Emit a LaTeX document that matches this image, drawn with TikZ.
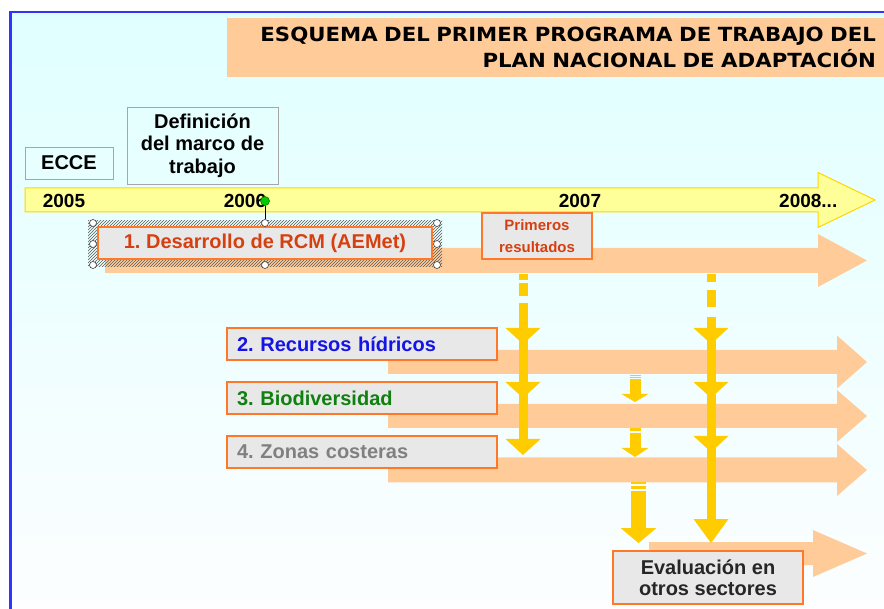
\documentclass[tikz,border=0pt]{standalone}
\usepackage{fontspec}
\setmainfont{Liberation Sans}
\newfontfamily\titlefont[FakeStretch=1.09]{DejaVu Sans}
\usepackage{tikz}
\usetikzlibrary{patterns}
\frenchspacing
\definecolor{slidetop}{RGB}{224,255,255}
\definecolor{slidebot}{RGB}{252,254,255}
\definecolor{frameblue}{RGB}{51,51,255}
\definecolor{titlefill}{RGB}{255,204,153}
\definecolor{bandfill}{RGB}{255,204,153}
\definecolor{linefill}{RGB}{255,255,153}
\definecolor{lineedge}{RGB}{255,214,0}
\definecolor{flowyellow}{RGB}{255,204,0}
\definecolor{boxfill}{RGB}{232,232,232}
\definecolor{boxedge}{RGB}{255,120,40}
\definecolor{rcmred}{RGB}{214,64,16}
\definecolor{hidblue}{RGB}{20,20,230}
\definecolor{biogreen}{RGB}{16,128,16}
\definecolor{costgray}{RGB}{128,128,128}
\tikzset{
  band/.style={fill=bandfill, draw=none},
  timeline/.style={fill=linefill, draw=lineedge, line width=1pt},
  flow/.style={fill=flowyellow, draw=none},
  taskbox/.style={draw=boxedge, fill=boxfill, line width=1.2pt, inner sep=0pt, font=\fontsize{20}{23}\selectfont\bfseries},
  rowbox/.style={taskbox, minimum width=270pt, minimum height=32pt, text width=250pt, align=left},
  notebox/.style={draw=gray!70, line width=0.8pt, inner sep=0pt, align=center, font=\fontsize{20}{22.5}\selectfont\bfseries},
  yr/.style={anchor=base, inner sep=0pt, font=\fontsize{19}{22}\selectfont\bfseries},
  handle/.style={circle, draw=gray!50!black, fill=white, line width=0.6pt, minimum size=7pt, inner sep=0pt},
}
% block arrow: [style] start, head base, tip, centre y, body half, head half
\newcommand{\blockarrow}[7][band]{\path[#1] (#2,#5-#6) -- (#3,#5-#6) -- (#3,#5-#7) -- (#4,#5) -- (#3,#5+#7) -- (#3,#5+#6) -- (#2,#5+#6) -- cycle;}
% down head: x, top y, half width, height
\newcommand{\flowhead}[4]{\path[flow] (#1-#3,#2) -- (#1+#3,#2) -- (#1,#2+#4) -- cycle;}

\begin{document}
\begin{tikzpicture}[x=1pt,y=-1pt]
\useasboundingbox (0,0) rectangle (884,609);
% slide
\fill[white] (0,0) rectangle (884,609);
\shade[top color=slidetop, bottom color=slidebot] (10,12) rectangle (884,609);
\draw[frameblue, line width=3pt] (10.5,609) -- (10.5,12.5);
\draw[frameblue, line width=2pt] (9,12.5) -- (884,12.5);

% title
\node[fill=titlefill, minimum width=657pt, minimum height=59pt, text width=641pt, align=right, inner sep=0pt,
  font=\titlefont\fontsize{19.5}{26}\selectfont\bfseries] (title) at (555.5,47.5)
  {ESQUEMA DEL PRIMER PROGRAMA DE TRABAJO DEL\\PLAN NACIONAL DE ADAPTACIÓN};

% milestones
\node[notebox, minimum width=88pt, minimum height=32pt] (ecce) at (69,163) {ECCE};
\node[notebox, minimum width=151pt, minimum height=77pt] (marco) at (202.5,145.5) {Definición\\del marco de\\trabajo};

% time line
\blockarrow[timeline]{25}{818}{875}{200}{12}{27.5}
\node[yr] (y05) at (64,208) {2005};
\node[yr] (y06) at (245,208) {2006};
\node[yr] (y07) at (580,208) {2007};
\node[yr, anchor=base west] (y08) at (779,208) {2008...};

% task 1
\blockarrow{105}{818}{867}{260.5}{12.5}{26.5}
\path[pattern=north east lines, pattern color=gray!70!black] (88,221) rectangle (442,267);
\node[taskbox, text=rcmred, minimum width=334pt, minimum height=32pt] (rcm) at (265,243) {1. Desarrollo de RCM (AEMet)};
\node[handle] (hTL) at (93,223) {};
\node[handle] (hT) at (265,223) {};
\node[handle] (hTR) at (437,223) {};
\node[handle] (hL) at (93,244) {};
\node[handle] (hR) at (437,244) {};
\node[handle] (hBL) at (93,265) {};
\node[handle] (hB) at (265,265) {};
\node[handle] (hBR) at (437,265) {};
\node[circle, draw=green!40!black, fill=green!80!black, line width=0.5pt, minimum size=9pt, inner sep=0pt] (rot) at (265,201) {};
\draw[line width=0.8pt] (rot) -- (hT);

\node[taskbox, text=rcmred, font=\fontsize{15}{22}\selectfont\bfseries, align=center,
  minimum width=110pt, minimum height=46pt] (prim) at (537,236) {Primeros\\resultados};

% tasks 2-4 and evaluation
\blockarrow{388}{837}{867}{362}{12}{26.5}
\blockarrow{388}{837}{867}{416}{12}{26}
\blockarrow{388}{837}{867}{470}{12.5}{26}
\blockarrow{649}{813}{867}{553.5}{11.5}{23.5}

\node[rowbox, text=hidblue] (hid) at (362,344) {2. Recursos hídricos};
\node[rowbox, text=biogreen] (bio) at (362,398) {3. Biodiversidad};
\node[rowbox, text=costgray] (cos) at (362,452) {4. Zonas costeras};

% results flowing down
\path[flow] (518.5,274) rectangle (527.5,280);
\path[flow] (518.5,283) rectangle (527.5,296);
\path[flow] (518.5,303) rectangle (527.5,445);
\flowhead{523}{328}{17.5}{16}
\flowhead{523}{382}{17.5}{16}
\flowhead{523}{439}{17.5}{16}

\path[flow] (706.5,274) rectangle (715.5,282);
\path[flow] (706.5,290) rectangle (715.5,307);
\path[flow] (706.5,317) rectangle (715.5,525);
\flowhead{711}{328}{17.5}{16}
\flowhead{711}{382}{17.5}{16}
\flowhead{711}{436}{17.5}{16}
\flowhead{711}{519}{17.5}{24}

\path[flow] (629.5,375) rectangle (640.5,376.5);
\path[flow] (629.5,377.5) rectangle (640.5,378.5);
\path[flow] (629.5,379.5) rectangle (640.5,394);
\flowhead{635}{394}{13.5}{8}
\path[flow] (629.5,428) rectangle (640.5,431);
\path[flow] (629.5,433) rectangle (640.5,448);
\flowhead{635}{448}{13.5}{9}
\path[flow] (631,482) rectangle (646,484);
\path[flow] (631,486) rectangle (646,489.5);
\path[flow] (631,491) rectangle (646,528);
\flowhead{638.5}{528}{18}{15}

\node[taskbox, font=\fontsize{20}{21}\selectfont\bfseries, text=black!85, align=center,
  minimum width=190pt, minimum height=53pt] (eval) at (708,577.5) {Evaluación en\\otros sectores};
\end{tikzpicture}
\end{document}
